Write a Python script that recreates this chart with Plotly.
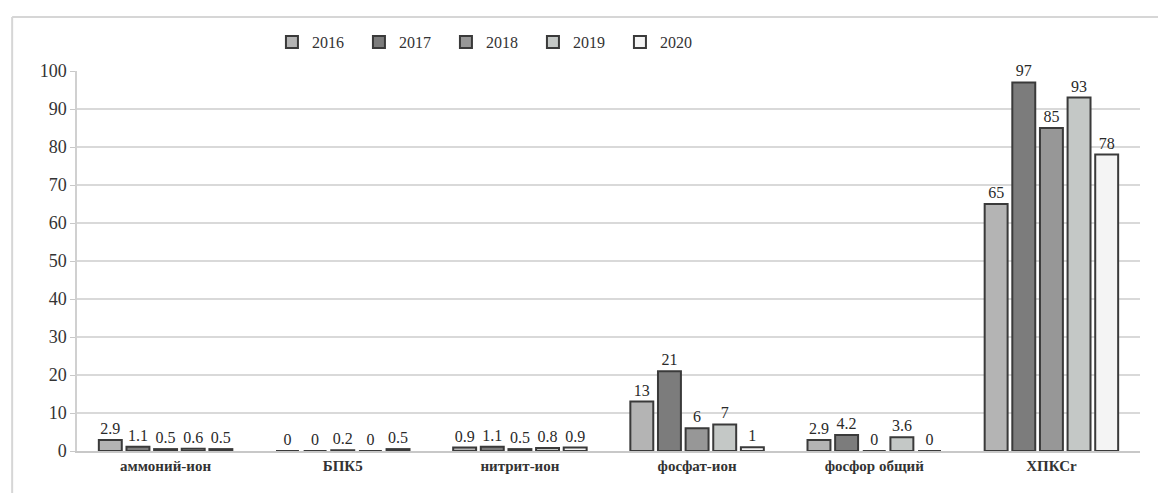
import plotly.graph_objects as go

categories = ["аммоний-ион", "БПК5", "нитрит-ион", "фосфат-ион", "фосфор общий", "ХПКСr"]
years = ["2016", "2017", "2018", "2019", "2020"]

v2016 = [2.9, 0, 0.9, 13, 2.9, 65]
v2017 = [1.1, 0, 1.1, 21, 4.2, 97]
v2018 = [0.5, 0.2, 0.5, 6, 0, 85]
v2019 = [0.6, 0, 0.8, 7, 3.6, 93]
v2020 = [0.5, 0.5, 0.9, 1, 0, 78]

series = [v2016, v2017, v2018, v2019, v2020]
fills = ["#b4b4b4", "#7c7c7c", "#979797", "#c4c8c6", "#f4f4f4"]

FONT = "Liberation Serif"

fig = go.Figure()
for name, vals, color in zip(years, series, fills):
    fig.add_trace(go.Bar(
        name=name,
        x=categories,
        y=vals,
        text=[f"{v:g}" for v in vals],
        textposition="outside",
        textfont=dict(family=FONT, size=16, color="#2a2a2a"),
        marker=dict(color=color, line=dict(color="#3a3a3a", width=2)),
        cliponaxis=False,
    ))

fig.update_layout(
    width=1158,
    height=493,
    paper_bgcolor="white",
    plot_bgcolor="white",
    margin=dict(l=77, r=18, t=71, b=42),
    barmode="group",
    bargap=0.22,
    bargroupgap=0.17,
    font=dict(family=FONT, color="#333333"),
    showlegend=True,
    legend=dict(
        orientation="h",
        x=0.388, y=1.076, xanchor="center", yanchor="middle",
        font=dict(family=FONT, size=16, color="#333333"),
        itemwidth=30,
        entrywidth=42,
        entrywidthmode="pixels",
        bgcolor="rgba(0,0,0,0)",
        traceorder="normal",
    ),
)

fig.update_yaxes(
    range=[0, 100],
    dtick=10,
    showgrid=True,
    gridcolor="#d9d9d9",
    gridwidth=1.5,
    showline=True,
    linecolor="#d0d0d0",
    linewidth=1.5,
    ticks="outside",
    ticklen=5,
    tickcolor="#c8c8c8",
    tickfont=dict(family=FONT, size=18, color="#333333"),
    zeroline=False,
)

fig.update_xaxes(
    showline=True,
    linecolor="#c8c8c8",
    linewidth=1.5,
    tickfont=dict(family=FONT, size=15, color="#333333", weight="bold"),
    ticks="",
)

# light frame around the chart area
fig.add_shape(type="line", xref="paper", yref="paper",
              x0=-0.061, x1=1.02, y0=1.142, y1=1.142,
              line=dict(color="#d6d6d6", width=2))
fig.add_shape(type="line", xref="paper", yref="paper",
              x0=-0.061, x1=-0.061, y0=1.142, y1=-0.12,
              line=dict(color="#d6d6d6", width=2))

fig.write_html("out.html")
